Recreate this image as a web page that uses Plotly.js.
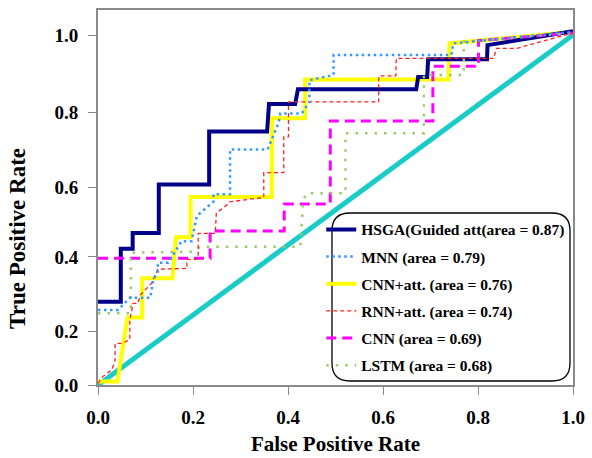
<!DOCTYPE html>
<html><head><meta charset="utf-8">
<script src="https://cdn.plot.ly/plotly-3.0.1.min.js"></script>
<style>html,body{margin:0;padding:0;background:#fff}#chart{width:592px;height:458px}</style>
</head><body><div id="chart"></div>
<script>
const seriesNames = ["HSGA(Guided att(area = 0.87)", "MNN (area = 0.79)", "CNN+att. (area = 0.76)", "RNN+att. (area = 0.74)", "CNN (area = 0.69)", "LSTM (area = 0.68)"];

const hsgaX = [0, 0.048, 0.048, 0.073, 0.073, 0.128, 0.128, 0.234, 0.234, 0.356, 0.360, 0.415, 0.421, 0.670, 0.674, 0.693, 0.695, 0.819, 0.820, 1.0];
const hsgaY = [0.238, 0.238, 0.389, 0.389, 0.434, 0.434, 0.573, 0.573, 0.724, 0.724, 0.803, 0.803, 0.845, 0.845, 0.880, 0.880, 0.931, 0.931, 0.971, 1.011];

const mnnX = [0, 0.042, 0.067, 0.110, 0.116, 0.126, 0.126, 0.148, 0.176, 0.197, 0.208, 0.243, 0.243, 0.278, 0.278, 0.357, 0.380, 0.384, 0.429, 0.445, 0.445, 0.496, 0.496, 0.744, 0.748, 1.0];
const mnnY = [0.214, 0.214, 0.249, 0.249, 0.300, 0.324, 0.349, 0.349, 0.411, 0.411, 0.483, 0.524, 0.545, 0.545, 0.673, 0.673, 0.748, 0.776, 0.776, 0.809, 0.871, 0.886, 0.943, 0.943, 0.976, 1.009];

const cnnAttX = [0, 0.041, 0.062, 0.093, 0.093, 0.157, 0.164, 0.195, 0.195, 0.366, 0.366, 0.436, 0.436, 0.738, 0.740, 1.0];
const cnnAttY = [0.01, 0.01, 0.193, 0.193, 0.305, 0.305, 0.422, 0.422, 0.537, 0.537, 0.762, 0.762, 0.873, 0.873, 0.976, 1.009];

const rnnAttX = [0, 0.010, 0.029, 0.036, 0.036, 0.050, 0.067, 0.067, 0.074, 0.084, 0.089, 0.113, 0.126, 0.187, 0.187, 0.208, 0.211, 0.211, 0.247, 0.249, 0.271, 0.276, 0.349, 0.349, 0.391, 0.391, 0.401, 0.401, 0.591, 0.591, 0.627, 0.628, 0.833, 0.839, 0.882, 1.0];
const rnnAttY = [0.005, 0.024, 0.043, 0.071, 0.119, 0.119, 0.129, 0.186, 0.233, 0.233, 0.257, 0.291, 0.331, 0.333, 0.359, 0.359, 0.367, 0.433, 0.433, 0.491, 0.514, 0.523, 0.536, 0.607, 0.607, 0.709, 0.709, 0.809, 0.809, 0.883, 0.883, 0.933, 0.933, 0.962, 0.962, 1.006];

const cnnX = [0, 0.236, 0.236, 0.392, 0.392, 0.489, 0.489, 0.705, 0.705, 0.801, 0.801, 1.0];
const cnnY = [0.362, 0.362, 0.440, 0.440, 0.517, 0.517, 0.754, 0.754, 0.911, 0.911, 0.984, 1.006];

const lstmX = [0, 0.061, 0.069, 0.069, 0.201, 0.215, 0.426, 0.432, 0.440, 0.521, 0.521, 0.686, 0.686, 0.770, 0.770, 1.0];
const lstmY = [0.205, 0.205, 0.205, 0.378, 0.381, 0.395, 0.395, 0.529, 0.548, 0.548, 0.719, 0.719, 0.886, 0.886, 0.981, 1.006];

const chanceX = [0, 1];
const chanceY = [0, 1];

const xTickVals = [0, 0.2, 0.4, 0.6, 0.8, 1.0];
const xTickText = ["0.0", "0.2", "0.4", "0.6", "0.8", "1.0"];
const yTickVals = [0, 0.154, 0.366, 0.564, 0.779, 0.998];
const yTickText = ["0.0", "0.2", "0.4", "0.6", "0.8", "1.0"];
const xTitle = "False Positive Rate";
const yTitle = "True Positive Rate";

const serif = "Liberation Serif, Times New Roman, serif";

function tr(x, y, name, color, width, dash, rank, group) {
  return {x: x, y: y, name: name, type: "scatter", mode: "lines",
    line: {color: color, width: width, dash: dash},
    legendrank: rank, legendgroup: group, showlegend: true, hoverinfo: "skip"};
}

const traces = [
  {x: chanceX, y: chanceY, type: "scatter", mode: "lines", showlegend: false,
   line: {color: "#19CCC8", width: 5}, hoverinfo: "skip"},
  tr(cnnAttX, cnnAttY, seriesNames[2], "#FFFF00", 4, "solid", 3, "g3"),
  tr(hsgaX, hsgaY, seriesNames[0], "#000088", 4, "solid", 1, "g1"),
  tr(cnnX, cnnY, seriesNames[4], "#FF00FF", 3, "10px,6px", 5, "g5"),
  tr(lstmX, lstmY, seriesNames[5], "#99CC66", 2.5, "2.5px,7px", 6, "g6"),
  tr(rnnAttX, rnnAttY, seriesNames[3], "#FF2020", 1.3, "4px,3px", 4, "g4"),
  tr(mnnX, mnnY, seriesNames[1], "#3399FF", 2.5, "2.5px,3.5px", 2, "g2")
];

const layout = {
  width: 592, height: 458,
  margin: {l: 98, r: 19, t: 10, b: 73},
  paper_bgcolor: "#ffffff", plot_bgcolor: "#ffffff",
  font: {family: serif, color: "#000000"},
  showlegend: true,
  xaxis: {
    range: [0, 1], tickvals: xTickVals, ticktext: xTickText,
    showgrid: false, zeroline: false,
    showline: true, linecolor: "#8a8a8a", linewidth: 2, mirror: true,
    ticks: "outside", ticklen: 8, tickwidth: 1, tickcolor: "#8a8a8a",
    ticklabelstandoff: 6,
    tickfont: {family: serif, size: 19, weight: "bold", color: "#000"},
    title: {text: xTitle, standoff: 10,
      font: {family: serif, size: 21, weight: "bold", color: "#000"}}
  },
  yaxis: {
    range: [0, 1.0714], tickvals: yTickVals, ticktext: yTickText,
    showgrid: false, zeroline: false,
    showline: true, linecolor: "#8a8a8a", linewidth: 2, mirror: true,
    ticks: "outside", ticklen: 8, tickwidth: 1, tickcolor: "#8a8a8a",
    ticklabelstandoff: 6,
    tickfont: {family: serif, size: 19, weight: "bold", color: "#000"}
  },
  annotations: [{
    text: yTitle, xref: "paper", yref: "paper", x: -0.168, y: 0.39,
    xanchor: "center", yanchor: "middle", textangle: -90, showarrow: false,
    font: {family: serif, size: 23, weight: "bold", color: "#000"}
  }],
  legend: {
    x: 0.47, y: 0.459, xanchor: "left", yanchor: "top",
    bgcolor: "rgba(0,0,0,0)", borderwidth: 0,
    tracegroupgap: 4, traceorder: "grouped",
    font: {family: serif, size: 15.5, weight: "bold", color: "#000"}
  },
  shapes: [{
    type: "path", xref: "paper", yref: "paper", layer: "above",
    path: "M 0.5305,0.4587 L 0.9558,0.4587 Q 0.9937,0.4587 0.9937,0.4107 L 0.9937,0.0587 Q 0.9937,0.0107 0.9558,0.0107 L 0.5305,0.0107 Q 0.4926,0.0107 0.4926,0.0587 L 0.4926,0.4107 Q 0.4926,0.4587 0.5305,0.4587 Z",
    fillcolor: "#ffffff", line: {color: "#000000", width: 1.3}
  }]
};

Plotly.newPlot("chart", traces, layout, {displayModeBar: false, staticPlot: true});
</script>
</body></html>
